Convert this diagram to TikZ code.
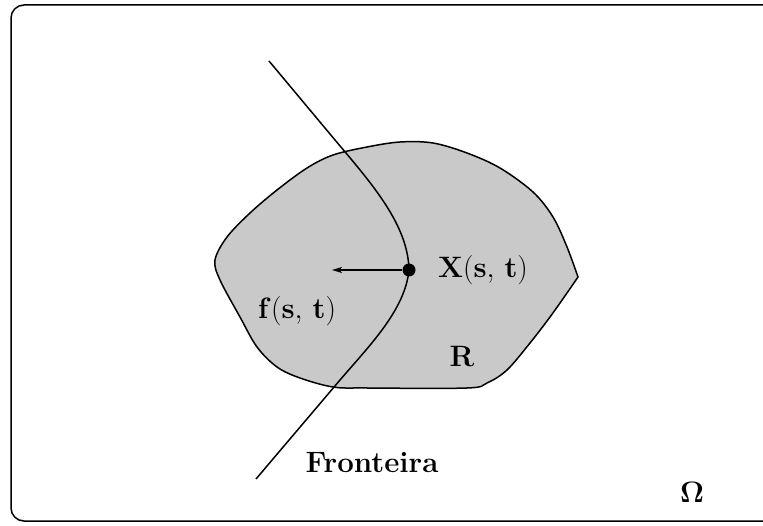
\RequirePackage{fix-cm}
\documentclass[tikz,border=0pt]{standalone}
\usetikzlibrary{arrows.meta}
\begin{document}
\begin{tikzpicture}[x=1pt,y=-1pt,
  lbl/.style={inner sep=0pt,font=\fontsize{29.5}{33}\selectfont\bfseries},
  curve/.style={line width=1.5pt},
  frame/.style={line width=1.5pt,rounded corners=13pt}]
\useasboundingbox (0,0) rectangle (763,526);
\clip (0,0) rectangle (763,526);
\draw[frame] (11,5) rectangle (790,521);
% region R
\draw[curve,fill=gray!42] plot[smooth,tension=0.55] coordinates {
 (578,277) (567,247) (553,217) (533,192) (500,168) (467,153) (433,143)
 (400,142) (367,147) (333,155) (307,168) (277,190) (250,213) (227,237)
 (215,260) (220,280) (240,317) (257,347) (277,367) (300,378) (333,387)
 (367,388) (467,388) (487,383) (507,370) (530,343) (550,317) (567,293)
 (578,277)} -- cycle;
% boundary curve
\draw[curve] (269,61) -- (335,140) .. controls (373,185) and (408,225) .. (409,270)
  .. controls (405,310) and (370,345) .. (340,380) -- (256,479);
\node[circle,fill=black,minimum size=13pt,inner sep=0pt] (X) at (409,270) {};
\coordinate (F) at (332,270);
\draw[line width=1.5pt,-{Stealth[length=10pt,width=6pt,inset=2.5pt]}] (X) -- (F);
\node[lbl] (lx) at (483,270) {$\mathbf{X(s,\,t)}$};
\node[lbl] (lf) at (297,311) {$\mathbf{f(s,\,t)}$};
\node[lbl] (lr) at (462,357) {R};
\node[lbl] (lfr) at (372,463) {Fronteira};
\node[lbl] (lo) at (692,492) {$\mathbf{\Omega}$};
\end{tikzpicture}
\end{document}
